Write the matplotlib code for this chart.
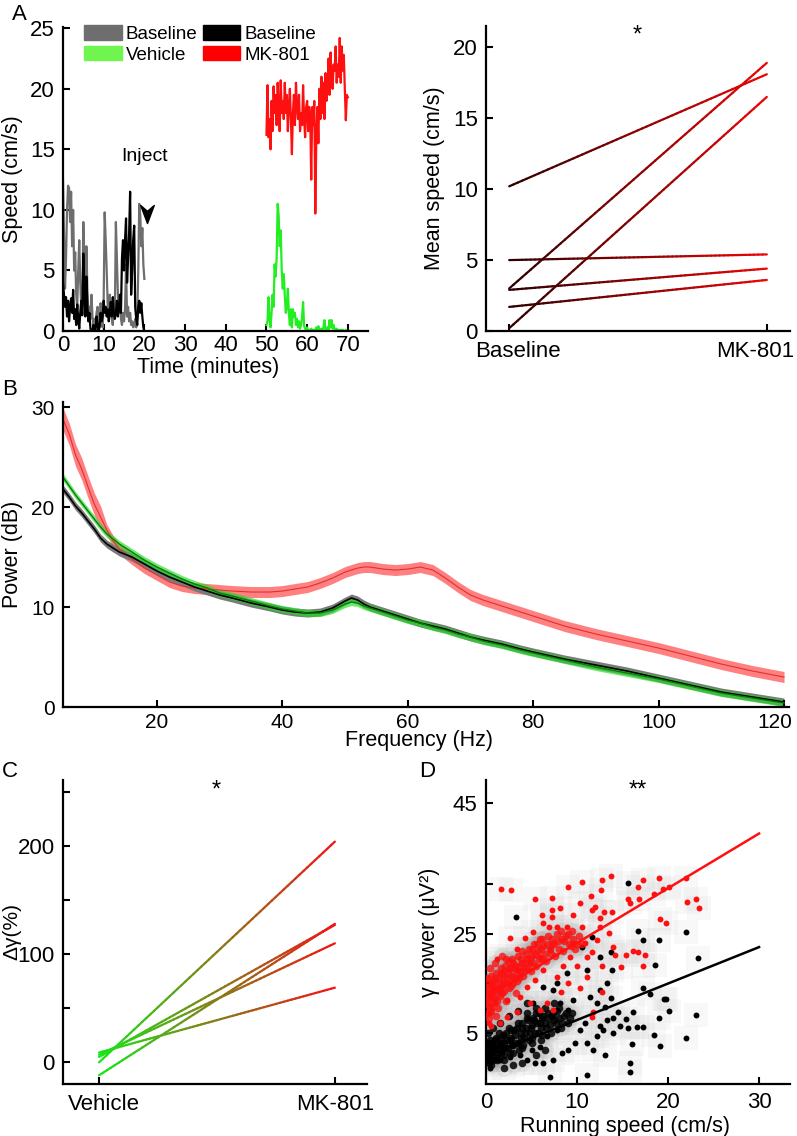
import numpy as np
import matplotlib
matplotlib.use("Agg")
import matplotlib.pyplot as plt
from matplotlib.collections import LineCollection
from matplotlib.patches import Patch
from matplotlib.path import Path
from matplotlib.transforms import ScaledTranslation

plt.rcParams['font.family'] = ['Liberation Sans', 'DejaVu Sans']
plt.rcParams['font.size'] = 15.5

# ---------------- data: panel A (speed traces, 0.25 min steps) ----------------
base_veh = [12.5, 8, 3.5, 6, 10, 12, 11.8, 9, 11.5, 7, 10, 5, 6.5, 3, 2, 5, 7.5, 4, 2, 1.5,
            9, 6, 2.5, 7, 3.5, 1.5, 2, 1, 3, 1.2, 0.5, 1, 0.3, 1.5, 2, 1, 0.3, 2.3, 1, 0.3,
            2.5, 9.8, 7.5, 5, 2, 1.5, 3, 2, 1, 0.5, 2.5, 1.5, 9, 6, 3, 1.5, 2.5, 1, 0.5, 1.5,
            0.8, 1.8, 5.5, 1.2, 2, 0.8, 1.5, 0.5, 0.8, 0.3, 0.5, 1, 0.3, 1.2, 5, 10.5, 9.5, 7,
            8.5, 5.5, 4.3]
base_mk = [4, 3, 2, 2.8, 1.2, 2.5, 0.8, 2, 2.7, 1.5, 3.4, 1, 1.8, 0.5, 2.2, 1, 0.2, 1.5, 2.5, 1.3,
           6.4, 3, 1.2, 4.5, 2, 0.8, 1.5, 0.2, 0, 0, 0.5, 0, 0, 1.2, 0.6, 0, 0.4, 1.5, 0.8, 1.2,
           2.5, 1.5, 2, 1.2, 1.8, 0.8, 1.5, 2.4, 1.2, 2.8, 1.5, 1, 1.5, 2.5, 1.2, 2, 3, 1.5, 6, 7.5,
           5, 7.5, 9.3, 4, 6, 8, 11.5, 3, 5, 7.5, 8.7, 2, 1, 0.5, 2, 2.5, 1.5, 2.3, 1.2, 0.3, 0]
vehicle = [0.5, 0.8, 2.8, 1, 0.3, 1.5, 3, 2, 5.5, 4.5, 6, 10.5, 9.5, 7, 8.3, 5, 3.5, 4.7, 3, 1.5,
           2, 3.5, 1.5, 0.5, 1.8, 0.3, 1.8, 1.2, 1.5, 0.5, 1, 0.3, 0.8, 0.2, 0.5, 1.2, 2.4, 0.4, 0.2, 0.1,
           0.3, 0, 0.1, 0, 0.2, 0, 0.1, 0, 0.1, 0.3, 0, 0.4, 0.1, 0, 0.2, 0, 0.3, 0.9, 0.2, 0,
           0.3, 0.1, 0.9, 0.3, 0.9, 0.2, 0.5, 0.1, 0, 0.2, 0, 0.1, 0, 0.1, 0, 0.1, 0, 0, 0.1, 0, 0]
mk801 = [16.2, 20.3, 16, 17.5, 15, 19, 16.5, 20.2, 18, 19.5, 17, 20.5, 18.5, 16.5, 20.7, 18, 19, 17.5, 20.5, 18,
         19.5, 16.5, 18.5, 20, 17.5, 14.6, 18, 19.5, 17, 20.5, 18.5, 17.5, 19.5, 16.5, 18, 17, 20.3, 17.5, 16, 18.5,
         19, 16.5, 18.5, 17.8, 12.5, 18.5, 17, 19, 9.7, 16, 18.5, 15.5, 20, 17.5, 21, 18, 20.5, 17.5, 21.3, 19,
         20, 22.5, 19.5, 23, 21, 20, 22, 21.5, 23.5, 20.5, 22, 21, 24.2, 20.5, 23.5, 21.5, 22.8, 20, 17.4, 19.5, 19.3]
inject_time = 20.6
inject_speed = 9.7

# mean speed per animal
mean_base = [10.2, 3.0, 0.2, 5.0, 2.9, 1.7]
mean_mk = [18.1, 18.9, 16.5, 5.4, 4.4, 3.6]

# ---------------- data: panel B (power spectra) ----------------
freq = [5, 6, 7, 8, 9, 10, 11, 12, 13, 14, 16, 18, 20, 22, 24, 26, 28, 30, 32, 35, 38, 40, 42, 44, 46,
        48, 50, 51, 52, 53, 54, 56, 58, 60, 62, 64, 66, 68, 70, 72, 75, 78, 80, 85, 90, 95, 100, 105,
        110, 115, 120]
pow_mk = [28.8, 27.3, 25.2, 23.8, 22.0, 20.3, 19.0, 17.7, 16.6, 15.8, 14.8, 13.9, 13.2, 12.5, 12.1, 11.9,
          11.8, 11.7, 11.6, 11.5, 11.5, 11.6, 11.8, 12.0, 12.4, 12.9, 13.5, 13.7, 13.9, 14.0, 14.0, 13.8,
          13.7, 13.8, 14.0, 13.7, 12.9, 12.0, 11.2, 10.7, 10.1, 9.5, 9.1, 8.1, 7.3, 6.6, 5.9, 5.1, 4.3,
          3.6, 3.0]
pow_base = [21.8, 21.0, 20.1, 19.4, 18.6, 17.8, 16.9, 16.3, 15.9, 15.5, 15.0, 14.3, 13.6, 13.0, 12.5, 12.0,
            11.6, 11.2, 10.9, 10.4, 10.0, 9.7, 9.5, 9.4, 9.5, 9.9, 10.6, 10.9, 10.7, 10.3, 10.0, 9.6, 9.2,
            8.8, 8.4, 8.1, 7.8, 7.4, 7.0, 6.7, 6.3, 5.8, 5.5, 4.8, 4.2, 3.6, 2.9, 2.2, 1.5, 1.0, 0.5]
pow_veh = [23.0, 22.1, 21.2, 20.4, 19.6, 18.8, 18.0, 17.3, 16.8, 16.3, 15.5, 14.7, 14.0, 13.4, 12.8, 12.3,
           11.9, 11.4, 11.1, 10.6, 10.1, 9.8, 9.6, 9.4, 9.4, 9.7, 10.3, 10.5, 10.4, 10.1, 9.9, 9.5, 9.1,
           8.7, 8.4, 8.0, 7.7, 7.3, 7.0, 6.6, 6.2, 5.7, 5.4, 4.7, 4.0, 3.4, 2.8, 2.1, 1.4, 0.9, 0.4]

# ---------------- data: panel C (gamma change per animal) ----------------
dg_vehicle = [-12, 0, 9, 7, 5]
dg_mk = [128, 204, 69, 110, 127]

# ---------------- data: panel D (gamma power vs running speed) ----------------
# sparse points
red_x = [1.7, 2.8, 1.2, 5.4, 7.3, 9.0, 10.5, 12.7, 13.7, 12.6, 11.5, 12.0, 13.0, 13.8, 15.6, 15.8, 16.7,
         17.3, 16.8, 18.5, 19.0, 19.5, 20.1, 19.1, 19.8, 22.0, 22.1, 23.1, 23.4, 14.2, 15.4, 16.2, 16.7,
         17.5, 17.3, 14.8, 12.7, 11.6, 11.1, 12.7, 11.8, 11.6, 10.3, 9.0, 8.2, 7.4, 6.7, 5.9, 4.8, 3.4,
         2.3, 1.5, 0.6, 0.3, 2.6, 3.4, 4.3, 5.2, 6.3, 7.2, 8.1, 9.6, 10.5, 8.9, 7.8, 6.9, 6.1, 7.2, 10.3,
         11.6, 12.5, 13.5, 12.2, 10.9, 9.6, 11.1, 10.0, 8.5, 7.8, 6.3, 5.4, 4.5, 3.7, 2.3, 1.5, 1.0, 0.4,
         3.4, 4.8, 5.9, 7.0, 9.2, 12.5, 13.9]
red_y = [34.1, 33.8, 20.0, 31.9, 32.3, 34.5, 35.5, 35.9, 36.6, 33.8, 32.6, 30.4, 29.4, 29.4, 31.9, 31.1,
         34.5, 35.8, 32.1, 33.1, 36.3, 34.1, 34.5, 27.9, 27.1, 36.3, 31.3, 31.9, 30.1, 20.8, 20.8, 21.5,
         21.4, 20.8, 18.4, 18.2, 18.4, 21.4, 16.3, 13.3, 9.3, 8.3, 14.0, 15.0, 13.3, 9.6, 11.0, 9.6, 11.0,
         9.3, 8.3, 6.9, 6.3, 7.0, 24.1, 22.0, 24.1, 25.4, 27.1, 28.4, 30.1, 28.8, 26.4, 26.4, 26.4, 26.4,
         28.8, 29.8, 31.1, 29.8, 28.1, 25.1, 23.7, 23.1, 23.1, 20.4, 18.4, 18.4, 16.3, 17.7, 15.7, 14.3,
         12.3, 11.6, 13.7, 11.0, 9.0, 17.7, 19.0, 20.4, 21.7, 20.4, 26.4, 22.4]
blk_x = [15.6, 3.3, 16.7, 17.3, 19.0, 22.0, 23.3, 18.6, 17.3, 18.0, 19.6, 19.8, 20.1, 19.0, 17.3, 18.5,
         19.1, 22.0, 23.1, 16.0, 15.8, 15.8, 13.1, 11.1, 7.0, 15.4, 16.2, 16.6, 15.6, 14.5, 14.0, 13.1,
         13.7, 13.7, 13.8, 13.3, 12.5, 12.2, 11.4, 10.9, 10.3, 9.8, 9.0, 8.3, 7.4, 6.3, 5.4, 4.5, 11.1,
         12.2, 12.9, 13.3, 12.5, 9.6, 9.0, 8.1, 7.4, 6.3, 5.2, 8.9, 7.8, 11.1, 10.5, 12.5, 11.6, 7.8, 6.7,
         5.9, 5.0, 3.7, 2.6, 1.5, 0.4, 11.8, 14.0, 14.7]
blk_y = [35.3, 28.3, 25.6, 23.7, 23.7, 25.3, 20.2, 18.6, 14.1, 12.9, 11.8, 11.8, 9.4, 8.0, 6.1, 4.6,
         2.4, 3.9, 8.6, 2.7, -1.0, -2.8, 0.6, -3.5, -3.9, 7.8, 9.3, 6.1, 5.9, 9.3, 8.0, 10.3, 12.0, 21.4,
         17.7, 15.0, 13.7, 11.0, 12.3, 7.0, 5.6, 2.9, 1.6, 0.9, -0.4, -1.1, -1.1, -0.4, 2.9, 4.3, 5.6,
         7.6, 6.3, 11.6, 9.6, 11.0, 13.7, 14.3, 11.0, 17.0, 15.0, 17.7, 22.4, 20.4, 24.4, 5.6, 4.3, 2.2,
         1.6, 0.6, 0.2, -0.4, -2.1, 1.6, 5.0, 6.3]
# dense cores near low speed
red_core_x = [0.2, 0.3, 0.5, 0.5, 0.7, 0.8, 1.0, 1.0, 1.2, 1.3, 1.5, 1.6, 1.8, 2.0, 2.0, 2.3, 2.5, 2.6, 2.8,
              3.0, 3.0, 3.3, 3.5, 3.6, 3.8, 4.0, 4.2, 4.4, 4.6, 4.8, 5.0, 5.2, 5.4, 5.6, 5.8, 6.0, 6.2, 6.5,
              6.7, 7.0, 7.2, 7.5, 7.8, 8.0, 8.3, 8.6, 9.0, 9.3, 9.6, 10.0, 0.1, 0.1, 0.4, 2.2, 1.1,
              0.0, 0.1, 0.2, 0.3, 0.4, 0.5, 0.6, 0.7, 0.8, 0.9, 1.0, 1.1, 1.2, 1.4, 1.5, 1.6, 1.7, 1.9, 2.0,
              2.1, 2.3, 2.4, 2.5, 2.7, 2.8, 2.9, 3.1, 3.2, 3.4, 3.5, 3.7, 3.9, 4.0, 4.1, 4.3, 4.5, 4.7, 4.9,
              5.1, 5.3, 5.5, 5.7, 5.9, 6.1, 6.3, 6.6, 6.8, 7.1, 7.3, 7.6, 7.9, 8.2, 8.5, 8.8, 9.1, 9.4, 9.8,
              10.2, 10.6, 0.3, 0.6, 1.3, 2.2, 3.3, 1.0, 1.8]
red_core_y = [12, 14, 10, 13, 15, 12, 14, 16, 11.5, 13.5, 15, 17, 13, 15, 17.5, 16, 14, 18, 16.5, 15, 19, 17,
              18.5, 16, 20, 17.5, 19, 21, 18, 20, 22, 19, 21, 23, 20, 22, 24, 21, 23, 22, 24, 23, 25, 22, 24,
              23.5, 25, 22.5, 24, 23, 9, 16, 18, 20, 8.5,
              11, 13, 15, 10.5, 12.5, 14.5, 16.5, 11, 13.5, 15.5, 12, 17, 14, 16, 12.5, 18, 14.5, 16.5, 13.5,
              18.5, 15, 17, 19.5, 14.5, 18, 20, 16, 18.5, 15.5, 20.5, 17.5, 19, 21.5, 16.5, 18, 20, 22, 17.5,
              20.5, 23, 18.5, 21.5, 24, 20, 22.5, 19.5, 24.5, 21, 23, 20.5, 23.5, 25.5, 21.5, 24.5, 23, 25.5,
              22, 24.5, 23, 8, 9.5, 10, 11.5, 13, 19, 20.5]
blk_core_x = [0.1, 0.2, 0.3, 0.5, 0.6, 0.8, 1.0, 1.0, 1.3, 1.5, 1.6, 1.8, 2.0, 2.2, 2.4, 2.6, 2.8, 3.0, 3.2,
              3.4, 3.6, 3.8, 4.0, 4.2, 4.4, 4.6, 4.8, 5.0, 5.2, 5.4, 5.6, 5.8, 6.0, 6.2, 6.5, 6.8, 7.0, 7.2,
              7.5, 7.8, 8.0, 8.4, 8.8, 9.2, 0.2, 0.4, 1.2, 2.0, 3.0, 4.0, 5.0, 6.0, 6.5, 7.5, 5.5, 4.5,
              0.0, 0.1, 0.2, 0.3, 0.4, 0.5, 0.6, 0.7, 0.8, 0.9, 1.1, 1.2, 1.3, 1.4, 1.6, 1.7, 1.9, 2.0, 2.1,
              2.3, 2.5, 2.6, 2.7, 2.9, 3.1, 3.3, 3.5, 3.6, 3.8, 3.9, 4.1, 4.3, 4.5, 4.7, 4.9, 5.1, 5.3, 5.5,
              5.7, 5.9, 6.1, 6.3, 6.6, 6.9, 7.1, 7.4, 7.7, 8.0, 8.2, 8.6, 9.0, 9.5, 0.2, 0.8, 1.5, 2.5, 3.5,
              4.5, 2.0, 3.0, 4.0, 5.5, 6.5]
blk_core_y = [0, 1.5, -1, 1, 2.5, 0.5, 2, 3.5, 1, 2.5, 4, 1.5, 3, 5, 2, 3.5, 5.5, 2.5, 4.5, 6, 3, 5, 7, 4, 6,
              7.5, 5, 6.5, 8, 5, 7, 9, 6, 8, 7, 9, 6.5, 8.5, 7.5, 9.5, 8, 7, 9, 8, 3, -0.5, -0.5, 0.5, 1, 2,
              3, 3.5, 10, 11, 10, 9,
              1, -0.5, 2.5, 0.5, 3.5, -1.5, 1.5, 3, -0.5, 2, 4, 0, 2.5, 5, 1, 3, 4.5, -0.5, 2, 3.5, 6, 1, 4,
              2.5, 5.5, 3, 7, 1.5, 4, 6, 2.5, 5, 8, 3.5, 6, 4, 7.5, 9, 5, 7, 4.5, 8.5, 6, 8, 5, 9, 7, 10, 6,
              8.5, 7, 9, 5, 6, 7, 8.5, 9.5, 11, -2, -1.5, -1, 0.5, 1.5]
fit_x = [0, 30]
fit_red = [12.1, 45.2]
fit_blk = [0.25, 22.3]


def grad_line(ax, x0, x1, y0, y1, c0, c1, lw=1.6, n=60):
    xs = np.linspace(x0, x1, n + 1)
    ys = np.linspace(y0, y1, n + 1)
    segs = np.stack([np.column_stack([xs[:-1], ys[:-1]]),
                     np.column_stack([xs[1:], ys[1:]])], axis=1)
    t = np.linspace(0, 1, n)[:, None]
    cols = (1 - t) * np.array(c0) + t * np.array(c1)
    ax.add_collection(LineCollection(segs, colors=cols, linewidths=lw, capstyle='round'))


def style(ax, xpad=5, size=16):
    for s in ['top', 'right']:
        ax.spines[s].set_visible(False)
    for s in ['left', 'bottom']:
        ax.spines[s].set_linewidth(1.6)
    ax.tick_params(direction='in', length=5, width=1.5, labelsize=size)
    ax.tick_params(axis='y', pad=6)
    ax.tick_params(axis='x', pad=xpad)


def nudge(label, dx_px):
    label.set_transform(label.get_transform() + ScaledTranslation(dx_px / 100, 0, fig.dpi_scale_trans))


fig = plt.figure(figsize=(7.97, 11.36), dpi=100)

# ---------------- A left ----------------
ax = fig.add_axes([0.079, 0.7086, 0.383, 0.2676])
style(ax, xpad=3)
ax.plot(np.arange(len(base_veh)) * 0.25, base_veh, color='#6e6e6e', lw=1.6)
ax.plot(np.arange(len(base_mk)) * 0.25, base_mk, color='black', lw=1.6)
ax.plot(50 + np.arange(len(vehicle)) * 0.25, vehicle, color='#22ee22', lw=1.6)
ax.plot(50 + np.arange(len(mk801)) * 0.25, mk801, color='#ff1010', lw=1.6)
arrow = Path([(0, -1), (-0.75, 1), (0, 0.35), (0.75, 1), (0, -1)],
             [Path.MOVETO, Path.LINETO, Path.LINETO, Path.LINETO, Path.CLOSEPOLY])
ax.plot([inject_time], [inject_speed], marker=arrow, markersize=13, color='black')
ax.text(20.1, 14.4, 'Inject', ha='center', va='center', fontsize=14)
ax.set_xlim(0, 75)
ax.set_ylim(0, 25.1)
ax.set_xticks(range(0, 71, 10))
ax.set_yticks(range(0, 26, 5))
ax.set_xlabel('Time (minutes)')
ax.set_ylabel('Speed (cm/s)')
ax.xaxis.set_label_coords(0.476, -0.085)
ax.yaxis.set_label_coords(-0.13, 0.5)
handles = [Patch(color='#6e6e6e'), Patch(color='#70f550'), Patch(color='black'), Patch(color='#ff0000')]
ax.legend(handles, ['Baseline', 'Vehicle', 'Baseline', 'MK-801'], ncol=2, loc='upper left',
          bbox_to_anchor=(0.045, 1.03), frameon=False, handlelength=2.0, handleheight=0.8,
          handletextpad=0.2, columnspacing=0.3, labelspacing=0.15, borderaxespad=0, fontsize=13.5)
fig.text(0.024, 0.987, 'A', fontsize=16, ha='center', va='center')

# ---------------- A right ----------------
ax = fig.add_axes([0.6098, 0.7086, 0.3814, 0.2685])
style(ax, xpad=7)
for b, m in zip(mean_base, mean_mk):
    grad_line(ax, 0, 1, b, m, (0.18, 0.0, 0.0), (0.92, 0.02, 0.02))
ax.set_xlim(-0.09, 1.09)
ax.set_ylim(0, 21.5)
ax.set_xticks([0, 1])
ax.set_xticklabels(['Baseline', 'MK-801'])
xl = ax.get_xticklabels()
nudge(xl[0], 9)
nudge(xl[1], -12)
ax.set_yticks(range(0, 21, 5))
ax.set_ylabel('Mean speed (cm/s)')
ax.yaxis.set_label_coords(-0.135, 0.5)
ax.text(0.497, 0.97, '*', transform=ax.transAxes, ha='center', va='center', fontsize=17)

# ---------------- B ----------------
ax = fig.add_axes([0.079, 0.3776, 0.911, 0.2685])
style(ax, xpad=4, size=15)
f = np.array(freq)
pm, pb, pv = np.array(pow_mk), np.array(pow_base), np.array(pow_veh)
hw_mk = np.where(f < 12, 1.1, 0.55)
ax.fill_between(f, pm - hw_mk, pm + hw_mk, color='#ff6a6a', alpha=0.85, lw=0)
ax.plot(f, pm, color='#e03030', lw=0.8)
ax.fill_between(f, pb - 0.4, pb + 0.4, color='#7a7a7a', lw=0)
ax.plot(f, pb, color='black', lw=1.2)
ax.fill_between(f, pv - 0.35, pv + 0.35, color='#22dd22', alpha=0.65, lw=0)
ax.plot(f, pv, color='#0a7a0a', lw=1.0)
ax.set_xlim(5, 120.8)
ax.set_ylim(0, 30.5)
ax.set_xticks(range(20, 121, 20))
ax.set_yticks([0, 10, 20, 30])
nudge(ax.get_xticklabels()[-1], -9)
ax.set_xlabel('Frequency (Hz)')
ax.set_ylabel('Power (dB)')
ax.xaxis.set_label_coords(0.49, -0.075)
ax.yaxis.set_label_coords(-0.055, 0.5)
fig.text(0.012, 0.657, 'B', fontsize=16, ha='center', va='center')

# ---------------- C ----------------
ax = fig.add_axes([0.079, 0.0458, 0.3814, 0.2676])
style(ax, xpad=7)
for v, m in zip(dg_vehicle, dg_mk):
    grad_line(ax, 0, 1, v, m, (0.1, 0.9, 0.1), (0.95, 0.08, 0.08))
ax.set_xlim(-0.153, 1.136)
ax.set_ylim(-20, 261)
ax.set_xticks([0, 1])
ax.set_xticklabels(['Vehicle', 'MK-801'])
nudge(ax.get_xticklabels()[0], 5)
ax.set_yticks([0, 50, 100, 150, 200, 250])
ax.set_yticklabels(['0', '', '100', '', '200', ''])
ax.set_ylabel('Δγ(%)', fontsize=15)
ax.yaxis.set_label_coords(-0.138, 0.5)
ax.text(0.503, 0.965, '*', transform=ax.transAxes, ha='center', va='center', fontsize=17)
fig.text(0.012, 0.321, 'C', fontsize=16, ha='center', va='center')

# ---------------- D ----------------
ax = fig.add_axes([0.6098, 0.0458, 0.3814, 0.2676])
style(ax, xpad=6)
all_x = blk_x + red_x + blk_core_x + red_core_x
all_y = blk_y + red_y + blk_core_y + red_core_y
ax.scatter(all_x, all_y, s=300, marker='s', color='#c8c8c8', alpha=0.12, linewidths=0, zorder=1)
ax.scatter(blk_core_x + red_core_x, blk_core_y + red_core_y, s=150, color='#909090', alpha=0.12,
           linewidths=0, zorder=1)
ax.scatter(blk_core_x, blk_core_y, s=30, color='black', alpha=0.85, linewidths=0, zorder=2)
ax.scatter(blk_x, blk_y, s=18, color='black', linewidths=0, zorder=2)
ax.scatter(red_core_x, red_core_y, s=30, color='#ff1010', alpha=0.8, linewidths=0, zorder=3)
ax.scatter(red_x, red_y, s=18, color='#ff1010', linewidths=0, zorder=3)
ax.plot(fit_x, fit_red, color='#ff1010', lw=1.8, zorder=4)
ax.plot(fit_x, fit_blk, color='black', lw=1.8, zorder=4)
ax.set_xlim(0, 33.4)
ax.set_ylim(-5.3, 56)
ax.set_xticks([0, 10, 20, 30])
ax.set_yticks([5, 15, 25, 35, 51.3])
ax.set_yticklabels(['5', '', '25', '', '45'])
ax.set_xlabel('Running speed (cm/s)')
ax.set_ylabel('γ power (μV²)')
ax.xaxis.set_label_coords(0.457, -0.105)
ax.yaxis.set_label_coords(-0.15, 0.5)
ax.text(0.5, 0.965, '**', transform=ax.transAxes, ha='center', va='center', fontsize=17)
fig.text(0.536, 0.321, 'D', fontsize=16, ha='center', va='center')

fig.savefig('out.png', dpi=100)
